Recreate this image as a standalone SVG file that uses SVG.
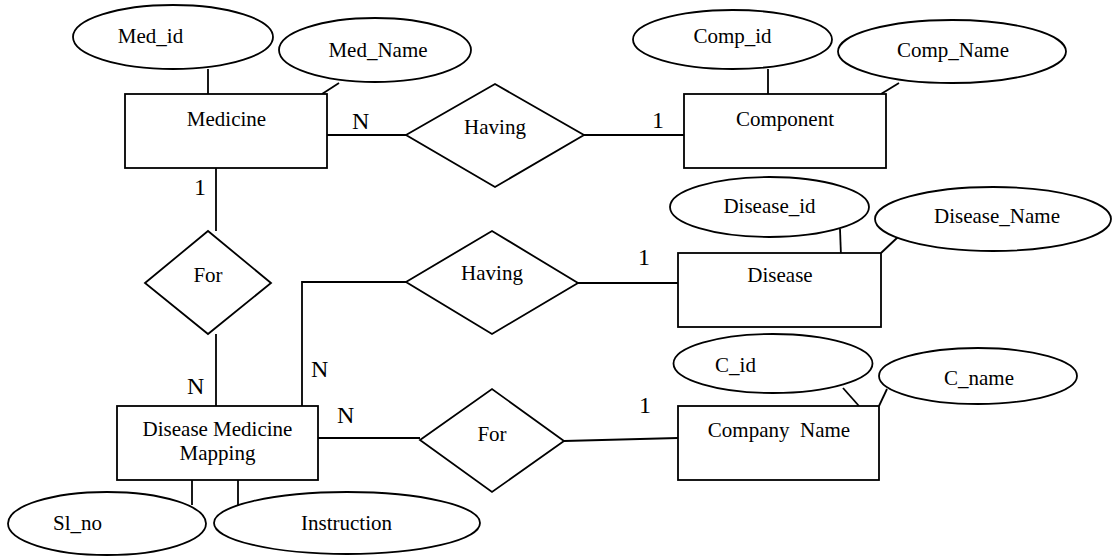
<svg xmlns="http://www.w3.org/2000/svg" width="1112" height="556" viewBox="0 0 1112 556">
<style>
  .s { fill: #fff; stroke: #000; stroke-width: 1.8; }
  .c { fill: none; stroke: #000; stroke-width: 1.8; }
  text { font-family: "Liberation Serif", "Times New Roman", serif; font-size: 21px; fill: #000; }
  .m { text-anchor: middle; }
  .card { font-size: 24px; }
</style>
<rect width="1112" height="556" fill="#fff"/>
<g id="connectors">
  <line class="c" x1="208" y1="69" x2="208" y2="94"/>
  <line class="c" x1="339" y1="83" x2="322" y2="94"/>
  <line class="c" x1="768" y1="69" x2="768" y2="94"/>
  <line class="c" x1="899" y1="83" x2="881" y2="94"/>
  <line class="c" x1="327" y1="135" x2="406" y2="135"/>
  <line class="c" x1="584" y1="135" x2="684" y2="135"/>
  <line class="c" x1="216" y1="168" x2="216" y2="231"/>
  <line class="c" x1="216" y1="334" x2="216" y2="406"/>
  <polyline class="c" points="302,406 302,282 406,282"/>
  <line class="c" x1="578" y1="283" x2="678" y2="283"/>
  <line class="c" x1="840" y1="229" x2="841" y2="256"/>
  <line class="c" x1="898" y1="237" x2="881" y2="253"/>
  <line class="c" x1="318" y1="438" x2="420" y2="438"/>
  <line class="c" x1="564" y1="441" x2="678" y2="438"/>
  <line class="c" x1="843" y1="388" x2="859" y2="406"/>
  <line class="c" x1="887" y1="389" x2="879" y2="406"/>
  <line class="c" x1="192" y1="480" x2="192" y2="505"/>
  <line class="c" x1="238" y1="480" x2="238" y2="505"/>
  <text class="card" x="352" y="129">N</text>
  <text class="card" x="652" y="128">1</text>
  <text class="card" x="194" y="195">1</text>
  <text class="card" x="187" y="394">N</text>
  <text class="card" x="311" y="377">N</text>
  <text class="card" x="337" y="423">N</text>
  <text class="card" x="638" y="265">1</text>
  <text class="card" x="639" y="413">1</text>
</g>
<g id="medicine">
  <rect class="s" x="125" y="94" width="202" height="74"/>
  <text class="m" x="226.5" y="126">Medicine</text>
</g>
<g id="med_id">
  <ellipse class="s" cx="173" cy="37" rx="100" ry="32"/>
  <text class="m" x="150.5" y="43">Med_id</text>
</g>
<g id="med_name">
  <ellipse class="s" cx="375" cy="50" rx="96" ry="32"/>
  <text class="m" x="378" y="57">Med_Name</text>
</g>
<g id="having1">
  <polygon class="s" points="406,135 495,84 584,135 495,187"/>
  <text class="m" x="495" y="134">Having</text>
</g>
<g id="component">
  <rect class="s" x="684" y="94" width="202" height="74"/>
  <text class="m" x="785" y="126">Component</text>
</g>
<g id="comp_id">
  <ellipse class="s" cx="732.5" cy="39.5" rx="99.5" ry="29.5"/>
  <text class="m" x="732.5" y="43">Comp_id</text>
</g>
<g id="comp_name">
  <ellipse class="s" cx="952" cy="51.5" rx="114" ry="31.5"/>
  <text class="m" x="953" y="57">Comp_Name</text>
</g>
<g id="for1">
  <polygon class="s" points="145,283 208,231 271,283 208,334"/>
  <text class="m" x="208" y="282">For</text>
</g>
<g id="having2">
  <polygon class="s" points="406,282 492,231 578,283 492,334"/>
  <text class="m" x="492" y="280">Having</text>
</g>
<g id="disease">
  <rect class="s" x="678" y="253" width="203" height="74"/>
  <text class="m" x="780" y="282">Disease</text>
</g>
<g id="disease_id">
  <ellipse class="s" cx="769.5" cy="207" rx="99.5" ry="30"/>
  <text class="m" x="769.5" y="213">Disease_id</text>
</g>
<g id="disease_name">
  <ellipse class="s" cx="993" cy="219" rx="118" ry="32"/>
  <text class="m" x="997" y="223">Disease_Name</text>
</g>
<g id="dmm">
  <rect class="s" x="117" y="406" width="201" height="74"/>
  <text class="m" x="217.5" y="436">Disease Medicine</text>
  <text class="m" x="217.5" y="460">Mapping</text>
</g>
<g id="for2">
  <polygon class="s" points="420,440 492,389 564,441 492,492"/>
  <text class="m" x="492" y="441">For</text>
</g>
<g id="company">
  <rect class="s" x="678" y="406" width="201" height="74"/>
  <text class="m" x="779" y="437" xml:space="preserve">Company  Name</text>
</g>
<g id="c_id">
  <ellipse class="s" cx="773" cy="363.5" rx="99.5" ry="29.5"/>
  <text class="m" x="735.5" y="372">C_id</text>
</g>
<g id="c_name">
  <ellipse class="s" cx="978" cy="376" rx="99" ry="28"/>
  <text class="m" x="979" y="385">C_name</text>
</g>
<g id="sl_no">
  <ellipse class="s" cx="107" cy="523.5" rx="99" ry="31.5"/>
  <text class="m" x="77.5" y="530">Sl_no</text>
</g>
<g id="instruction">
  <ellipse class="s" cx="347" cy="523" rx="133" ry="31"/>
  <text class="m" x="346.5" y="530">Instruction</text>
</g>
</svg>
